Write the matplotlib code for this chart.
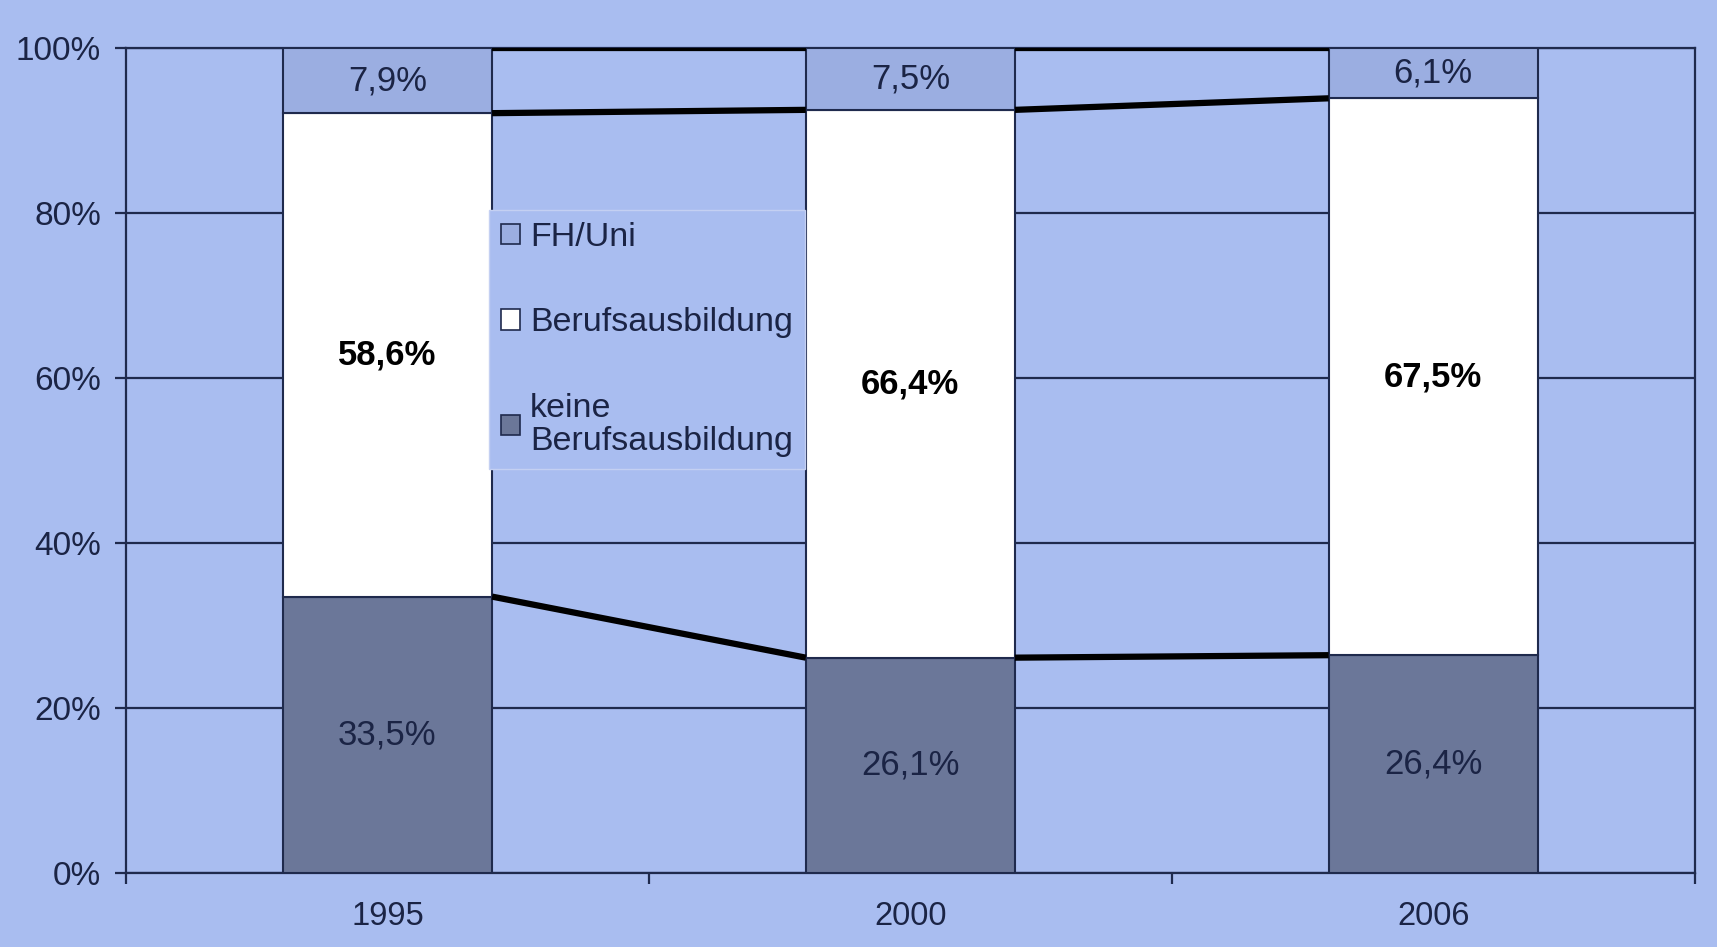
import matplotlib
matplotlib.use('Agg')
import matplotlib.pyplot as plt
from matplotlib.patches import Rectangle, Patch
import numpy as np

# data (shares in %)
years = ['1995', '2000', '2006']
keine = [33.5, 26.1, 26.4]
beruf = [58.6, 66.4, 67.5]
fhuni = [7.9, 7.5, 6.1]
keine_lbl = ['33,5%', '26,1%', '26,4%']
beruf_lbl = ['58,6%', '66,4%', '67,5%']
fhuni_lbl = ['7,9%', '7,5%', '6,1%']
yticks = [0, 20, 40, 60, 80, 100]
ytick_lbl = ['0%', '20%', '40%', '60%', '80%', '100%']

plt.rcParams['font.family'] = ['Liberation Sans', 'DejaVu Sans']

bg = '#A9BDF0'
navy = '#1F2A4D'
txt = '#1B2445'
c_fh = '#9BAEE1'
c_beruf = '#FFFFFF'
c_keine = '#6B7799'

fig = plt.figure(figsize=(17.17, 9.52), dpi=100, facecolor=bg)
ax = fig.add_axes([0.0734, 0.083, 0.9136, 0.8666])
ax.set_facecolor(bg)

x = np.arange(len(years))
w = 0.4
keine = np.array(keine)
beruf = np.array(beruf)
fhuni = np.array(fhuni)

ax.set_axisbelow(True)
ax.grid(axis='y', color=navy, linewidth=1.6)

ax.bar(x, keine, w, color=c_keine, edgecolor=navy, linewidth=1.5, zorder=3)
ax.bar(x, beruf, w, bottom=keine, color=c_beruf, edgecolor=navy, linewidth=1.5, zorder=3)
ax.bar(x, fhuni, w, bottom=keine + beruf, color=c_fh, edgecolor=navy, linewidth=1.5, zorder=3)

# series lines between bars
for level in [keine, keine + beruf, keine + beruf + fhuni]:
    for i in range(len(x) - 1):
        ax.plot([x[i] + w / 2, x[i + 1] - w / 2], [level[i], level[i + 1]],
                color='black', linewidth=4.5, solid_capstyle='butt', zorder=4)

# value labels
for i in range(len(x)):
    ax.text(x[i], keine[i] / 2, keine_lbl[i], ha='center', va='center',
            fontsize=25, color=txt, zorder=5)
    ax.text(x[i], keine[i] + beruf[i] / 2, beruf_lbl[i], ha='center', va='center',
            fontsize=25, fontweight='bold', color='black', zorder=5)
    ax.text(x[i], keine[i] + beruf[i] + fhuni[i] / 2, fhuni_lbl[i], ha='center',
            va='center', fontsize=25, color=txt, zorder=5)

ax.set_xlim(-0.5, 2.5)
ax.set_ylim(0, 100)
ax.set_yticks(yticks)
ax.set_yticklabels(ytick_lbl, fontsize=24, color=txt)
ax.set_xticks([-0.5, 0.5, 1.5, 2.5])
ax.set_xticklabels([])
ax.set_xticks(x, minor=True)
ax.set_xticklabels(years, minor=True, fontsize=23.5, color=txt)
ax.tick_params(axis='x', which='major', length=8, width=1.6, color=navy, direction='out')
ax.tick_params(axis='x', which='minor', length=0, pad=20)
ax.tick_params(axis='y', length=8, width=1.6, color=navy, pad=10)
for s in ax.spines.values():
    s.set_color(navy)
    s.set_linewidth(1.6)

handles = [Patch(facecolor=c_fh, edgecolor=navy, linewidth=1.2),
           Patch(facecolor=c_beruf, edgecolor=navy, linewidth=1.2),
           Patch(facecolor=c_keine, edgecolor=navy, linewidth=1.2)]
labels = ['FH/Uni', 'Berufsausbildung', 'keine\nBerufsausbildung']
leg = ax.legend(handles, labels, loc='upper left',
                bbox_to_anchor=(489 / 1717, 1 - 210 / 952), bbox_transform=fig.transFigure,
                fontsize=24.5, frameon=True, fancybox=False, facecolor=bg,
                edgecolor='#C4D0F2', framealpha=1, handlelength=0.55, handleheight=0.55,
                handletextpad=0.3, labelspacing=1.6, borderpad=0.35, borderaxespad=0)
for t in leg.get_texts():
    t.set_color(txt)
    t.set_linespacing(1.1)
leg.set_zorder(6)

# thin white strip at the bottom of the picture
fig.patches.append(Rectangle((0, 0), 1, 0.005, transform=fig.transFigure,
                             facecolor='white', edgecolor='none'))

fig.savefig('out.png', dpi=100, facecolor=bg)
